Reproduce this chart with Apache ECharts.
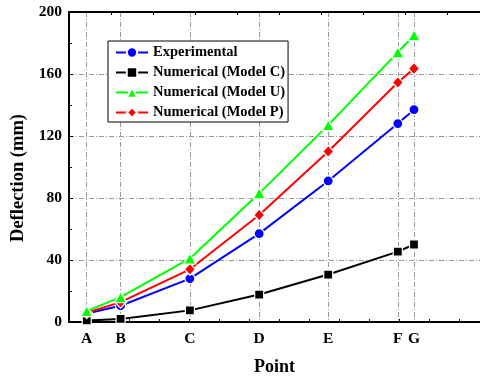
<!DOCTYPE html>
<html>
<head>
<meta charset="utf-8">
<script src="https://cdn.jsdelivr.net/npm/echarts@6/dist/echarts.min.js"></script>
<style>
  html, body { margin: 0; padding: 0; background: #fff; }
  #chart { width: 480px; height: 381px; }
</style>
</head>
<body>
<div id="chart"></div>
<script>
// Measuring points along the span and their positions (in grid units along the x axis)
const pointNames = ['A', 'B', 'C', 'D', 'E', 'F', 'G'];
const pointPos = [0.59, 1.72, 4.03, 6.34, 8.64, 10.96, 11.5];

// Deflection (mm) at each point
const experimental = [5.5, 10.5, 28, 57, 91, 128, 137];
const modelC = [1, 2, 7.5, 17.7, 30.6, 45.4, 50];
const modelU = [7, 16, 41, 83, 127, 174, 185];
const modelP = [6, 12.8, 34, 69, 110, 154.5, 163.5];

const yTicks = { min: 0, max: 200, interval: 40 };

const FONT = '"Liberation Serif", "Times New Roman", serif';
const GRID_DASH = [5, 2, 1, 2];

function pairs(values) {
  return values.map((v, i) => [pointPos[i], v]);
}

const nameAt = {};
pointPos.forEach((p, i) => { nameAt[p] = pointNames[i]; });

const chart = echarts.init(document.getElementById('chart'), null, { renderer: 'canvas' });

const xMax = 411 / 30;    // bottom axis extent (one unit per minor tick)
const topMax = 411 / 42;  // top frame axis extent

function lineSeries(name, data, color, symbol, size, z) {
  return {
    name: name,
    type: 'line',
    data: pairs(data),
    z: z,
    symbol: symbol,
    symbolSize: size,
    showAllSymbol: true,
    lineStyle: { color: color, width: 2 },
    itemStyle: { color: color, borderColor: '#fff', borderWidth: 1.2 },
    emphasis: { disabled: true },
    animation: false
  };
}

chart.setOption({
  animation: false,
  backgroundColor: '#fff',
  textStyle: { fontFamily: FONT },
  grid: { left: 69, right: 0, top: 12, bottom: 58.5, containLabel: false },
  xAxis: [
    {
      type: 'value',
      position: 'bottom',
      min: 0,
      max: xMax,
      name: 'Point',
      nameLocation: 'middle',
      nameGap: 36,
      nameTextStyle: { fontFamily: FONT, fontWeight: 'bold', fontSize: 18, color: '#000' },
      axisLine: { show: true, onZero: false, lineStyle: { color: '#000', width: 2 } },
      axisTick: { show: false, customValues: pointPos },
      axisLabel: {
        customValues: pointPos,
        formatter: (v) => nameAt[v] || '',
        fontFamily: FONT, fontWeight: 'bold', fontSize: 15.5, color: '#000', margin: 9
      },
      splitLine: { show: true, lineStyle: { color: '#999', width: 1, type: GRID_DASH } }
    },
    {
      type: 'value',
      position: 'top',
      min: 0,
      max: topMax,
      interval: 1,
      axisLine: { show: true, onZero: false, lineStyle: { color: '#000', width: 2 } },
      axisTick: { show: true, inside: true, length: 3, lineStyle: { color: '#000', width: 1 } },
      axisLabel: { show: false },
      splitLine: { show: false }
    },
    {
      type: 'value',
      position: 'bottom',
      min: 0,
      max: xMax,
      interval: 1,
      axisLine: { show: false, onZero: false },
      axisTick: { show: true, inside: true, length: 3, lineStyle: { color: '#000', width: 1 } },
      axisLabel: { show: false },
      splitLine: { show: false }
    }
  ],
  yAxis: {
    type: 'value',
    min: yTicks.min,
    max: yTicks.max,
    interval: yTicks.interval,
    name: 'Deflection (mm)',
    nameLocation: 'middle',
    nameGap: 31,
    nameTextStyle: { fontFamily: FONT, fontWeight: 'bold', fontSize: 18.5, color: '#000', padding: [0, 22, 0, 0] },
    axisLine: { show: true, onZero: false, lineStyle: { color: '#000', width: 2 } },
    axisTick: { show: true, inside: true, length: 4, lineStyle: { color: '#000', width: 1 } },
    minorTick: { show: true, splitNumber: 2, length: 3, lineStyle: { color: '#000', width: 1 } },
    axisLabel: { fontFamily: FONT, fontWeight: 'bold', fontSize: 15.5, color: '#000', margin: 7 },
    splitLine: { show: true, lineStyle: { color: '#999', width: 1, type: GRID_DASH } }
  },
  legend: {
    orient: 'vertical',
    left: 108,
    top: 41,
    data: ['Experimental', 'Numerical (Model C)', 'Numerical (Model U)', 'Numerical (Model P)'],
    itemWidth: 32,
    itemHeight: 13,
    itemGap: 5,
    padding: [4, 3, 2, 7],
    borderColor: '#000',
    borderWidth: 1,
    backgroundColor: '#fff',
    textStyle: { fontFamily: FONT, fontWeight: 'bold', fontSize: 14.5, color: '#000', lineHeight: 14 },
    selectedMode: false
  },
  series: [
    lineSeries('Experimental', experimental, '#0000ff', 'circle', 10, 2),
    lineSeries('Numerical (Model C)', modelC, '#000000', 'rect', 9, 3),
    lineSeries('Numerical (Model P)', modelP, '#ff0000', 'diamond', [11, 12], 4),
    lineSeries('Numerical (Model U)', modelU, '#00ff00', 'triangle', [12, 11], 5)
  ]
});
</script>
</body>
</html>
